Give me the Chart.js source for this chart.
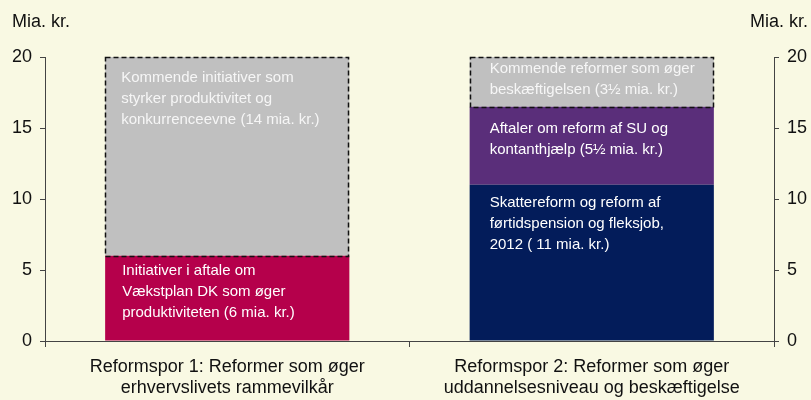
<!DOCTYPE html>
<html>
<head>
<meta charset="utf-8">
<script src="https://cdn.jsdelivr.net/npm/chart.js@4"></script>
<style>
  html, body { margin: 0; padding: 0; background: #f9f9e3; }
  #wrap { width: 811px; height: 400px; }
</style>
</head>
<body>
<div id="wrap"><canvas id="c" width="811" height="400"></canvas></div>
<script>
// ---------- DATA ----------
const categories = [
  ['Reformspor 1: Reformer som øger', 'erhvervslivets rammevilkår'],
  ['Reformspor 2: Reformer som øger', 'uddannelsesniveau og beskæftigelse']
];
const vaekstplan   = [6, null];     // Initiativer i aftale om Vækstplan DK
const skattereform = [null, 11];    // Skattereform og reform af førtidspension og fleksjob
const suKontant    = [null, 5.5];   // Aftaler om reform af SU og kontanthjælp
const kommende     = [14, 3.5];     // Kommende initiativer / reformer
const yTicks = [0, 5, 10, 15, 20];
const unitLabel = 'Mia. kr.';

const vaekstplanText = [['Initiativer i aftale om', 'Vækstplan DK som øger', 'produktiviteten (6 mia. kr.)'], null];
const skattereformText = [null, ['Skattereform og reform af', 'førtidspension og fleksjob,', '2012 ( 11 mia. kr.)']];
const suKontantText = [null, ['Aftaler om reform af SU og', 'kontanthjælp (5½ mia. kr.)']];
const kommendeText = [['Kommende initiativer som', 'styrker produktivitet og', 'konkurrenceevne (14 mia. kr.)'],
                      ['Kommende reformer som øger', 'beskæftigelsen (3½ mia. kr.)']];

// ---------- STYLE ----------
const FONT = "'Liberation Sans', Arial, sans-serif";
const colors = { vaekstplan: '#b5004b', skattereform: '#031c5a', suKontant: '#5a2e7a', kommende: '#c0c0c0' };
const axisColor = '#444444';
const textColor = '#111111';
// per dataset, per category: [x inset, first-line y offset from segment top]
const textInsets = {
  vaekstplan: [[17, 15], null],
  skattereform: [null, [20, 18]],
  suKontant: [null, [20, 22]],
  kommende: [[16, 21], [20, 12]]
};
const textLineHeight = 21;

const ds = (key, data, text) => ({
  label: key, data, backgroundColor: colors[key], borderWidth: 0,
  barPercentage: 0.67, categoryPercentage: 1, yAxisID: 'y',
  _key: key, _text: text
});

const segmentPlugin = {
  id: 'segments',
  afterDatasetsDraw(chart) {
    const ctx = chart.ctx;
    chart.data.datasets.forEach((d, di) => {
      const meta = chart.getDatasetMeta(di);
      meta.data.forEach((el, i) => {
        if (d.data[i] == null) return;
        const p = el.getProps(['x', 'y', 'base', 'width'], true);
        const left = p.x - p.width / 2;
        const top = Math.min(p.y, p.base);
        const bottom = Math.max(p.y, p.base);
        if (d._key === 'kommende') {
          ctx.save();
          ctx.setLineDash([5, 3]);
          ctx.lineWidth = 1.5;
          ctx.strokeStyle = '#111';
          ctx.strokeRect(Math.round(left) + 0.5, Math.round(top) + 0.5, Math.round(p.width) - 1, Math.round(bottom - top));
          ctx.restore();
        }
        const lines = d._text && d._text[i];
        const ins = textInsets[d._key][i];
        if (!lines || !ins) return;
        ctx.save();
        ctx.font = '15px ' + FONT;
        ctx.fillStyle = d._key === 'kommende' ? '#f6f6f6' : '#ffffff';
        ctx.textAlign = 'left';
        ctx.textBaseline = 'middle';
        lines.forEach((ln, k) => ctx.fillText(ln, left + ins[0], top + ins[1] + k * textLineHeight));
        ctx.restore();
      });
    });
  },
  afterDraw(chart) {
    const ctx = chart.ctx;
    ctx.save();
    ctx.font = '18px ' + FONT;
    ctx.fillStyle = textColor;
    ctx.textBaseline = 'middle';
    ctx.textAlign = 'left';
    ctx.fillText(unitLabel, 12, 22);
    ctx.textAlign = 'right';
    ctx.fillText(unitLabel, 808, 22);
    ctx.restore();
  }
};

const yCommon = {
  min: 0, max: 20,
  afterBuildTicks: s => { s.ticks = yTicks.map(v => ({ value: v })); },
  grid: { drawOnChartArea: false, drawTicks: true, tickLength: 5, color: axisColor },
  border: { display: true, color: axisColor, width: 1 },
  ticks: { font: { size: 18, family: FONT }, color: textColor, padding: 8 }
};

new Chart(document.getElementById('c'), {
  type: 'bar',
  data: {
    labels: categories,
    datasets: [
      ds('vaekstplan', vaekstplan, vaekstplanText),
      ds('skattereform', skattereform, skattereformText),
      ds('suKontant', suKontant, suKontantText),
      ds('kommende', kommende, kommendeText)
    ]
  },
  options: {
    responsive: false,
    animation: false,
    devicePixelRatio: 1,
    layout: { padding: { top: 57, left: 0, right: 0, bottom: 0 } },
    plugins: { legend: { display: false }, tooltip: { enabled: false } },
    scales: {
      x: {
        stacked: true,
        grid: { drawOnChartArea: false, drawTicks: true, tickLength: 6, offset: true, color: axisColor },
        border: { display: true, color: axisColor, width: 1 },
        ticks: { font: { size: 18, family: FONT, lineHeight: 1.2 }, color: textColor, padding: 9, maxRotation: 0, autoSkip: false },
        afterFit: s => { s.height = 59; }
      },
      y: Object.assign({}, yCommon, { position: 'left', stacked: true, afterFit: s => { s.width = 45; } }),
      y2: Object.assign({}, yCommon, { position: 'right', afterFit: s => { s.width = 37; } })
    }
  },
  plugins: [segmentPlugin]
});
</script>
</body>
</html>
